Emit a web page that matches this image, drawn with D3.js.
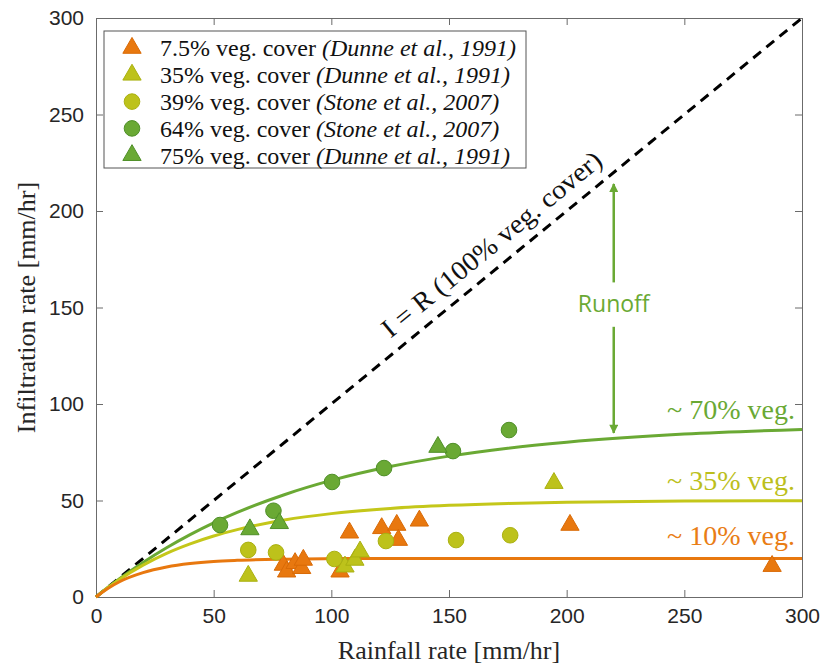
<!DOCTYPE html>
<html>
<head>
<meta charset="utf-8">
<script src="https://cdn.jsdelivr.net/npm/d3@7"></script>
<style>
  body { margin: 0; background: #fff; }
  .vis { width: 820px; height: 668px; }
</style>
</head>
<body>
<div class="vis"></div>
<script>
(function() {
  'use strict';

  // tick values
  var xTicks = [0, 50, 100, 150, 200, 250, 300];
  var yTicks = [0, 50, 100, 150, 200, 250, 300];

  var veg7Tri = [[79.6,16.6],[81,13.1],[84.6,17.5],[87.4,14.9],[88.1,19.2],[103.7,13.1],
    [107.7,33.3],[121.4,35.6],[127.8,37.3],[128.5,29.5],[137.4,39.5],[201.4,37.3],[287.3,16]];
  var veg35Tri = [[64.7,10.9],[105.8,15.7],[110,19.2],[112.2,23.5],[194.6,59]];
  var veg39Circ = [[64.7,24.4],[76.5,23.1],[101.3,19.7],[123.2,29],[153,29.5],[176,32]];
  var veg64Circ = [[52.7,37.3],[75.4,44.7],[100.3,59.6],[122.4,66.8],[151.7,75.6],[175.5,86.5]];
  var veg75Tri = [[65.4,35],[77.9,38.2],[145.3,77.7]];

  // fitted curves, sampled off the figure
  var curveX   = [0, 5, 10, 20, 30, 40, 50, 60, 80, 100, 125, 150, 175, 200, 250, 300];
  var curve70  = [0, 4.9, 9.5, 17.9, 25.5, 32.3, 38.4, 43.8, 53.0, 60.4, 67.6, 73.0, 77.1, 80.2, 84.4, 86.8];
  var curve35  = [0, 4.8, 9.1, 16.5, 22.6, 27.5, 31.6, 34.9, 39.9, 43.2, 45.9, 47.5, 48.5, 49.1, 49.7, 49.9];
  var curve10  = [0, 4.4, 7.9, 12.6, 15.5, 17.3, 18.4, 19.0, 19.6, 19.9, 20, 20, 20, 20, 20, 20];
  var curveLabels = ['~ 70% veg.', '~ 35% veg.', '~ 10% veg.'];

  var legendLabels = [
    ['7.5% veg. cover ', '(Dunne et al., 1991)'],
    ['35% veg. cover ', '(Dunne et al., 1991)'],
    ['39% veg. cover ', '(Stone et al., 2007)'],
    ['64% veg. cover ', '(Stone et al., 2007)'],
    ['75% veg. cover ', '(Dunne et al., 1991)']
  ];

  var orange = '#e8780f', orangeEdge = '#d96a06',
    yellow = '#bdc21b', yellowEdge = '#aab111',
    green = '#6aa934', greenEdge = '#4f8f28';

  var series = [
    {data: veg7Tri, shape: 'tri', fill: orange, edge: orangeEdge},
    {data: veg35Tri, shape: 'tri', fill: yellow, edge: yellowEdge},
    {data: veg39Circ, shape: 'circ', fill: yellow, edge: yellowEdge},
    {data: veg64Circ, shape: 'circ', fill: green, edge: greenEdge},
    {data: veg75Tri, shape: 'tri', fill: green, edge: greenEdge}
  ];

  var elWidth = 820, elHeight = 668,
    margin = {top: 18, right: 18, bottom: 71, left: 96},
    width = elWidth - margin.left - margin.right,
    height = elHeight - margin.top - margin.bottom;

  var root = d3.select('.vis').append('svg')
      .attr('width', elWidth)
      .attr('height', elHeight);

  var defs = root.append('defs');
  defs.append('marker')
      .attr('id', 'arrow')
      .attr('viewBox', '0 0 10 10')
      .attr('refX', 9).attr('refY', 5)
      .attr('markerWidth', 10).attr('markerHeight', 9)
      .attr('markerUnits', 'userSpaceOnUse')
      .attr('orient', 'auto')
    .append('path')
      .attr('d', 'M0,0L10,5L0,10Z')
      .attr('fill', green);

  var svg = root.append('g')
      .attr('transform', 'translate(' + margin.left + ',' + margin.top + ')');

  var x = d3.scaleLinear().domain([0, 300]).range([0, width]);
  var y = d3.scaleLinear().domain([0, 300]).range([height, 0]);

  var axisColor = '#6b6b6b';
  function styleAxis(g) {
    g.select('.domain').attr('stroke', axisColor);
    g.selectAll('.tick line').attr('stroke', axisColor);
    g.selectAll('.tick text')
      .attr('fill', '#262626')
      .style('font-family', '"Liberation Sans", Arial, sans-serif')
      .style('font-size', '21px');
  }

  svg.append('g')
      .attr('transform', 'translate(0,' + height + ')')
      .call(d3.axisBottom(x).tickValues(xTicks).tickSize(-7).tickSizeOuter(0).tickPadding(11))
      .call(styleAxis);
  svg.append('g')
      .call(d3.axisLeft(y).tickValues(yTicks).tickSize(-7).tickSizeOuter(0).tickPadding(12))
      .call(styleAxis);
  svg.append('g')
      .call(d3.axisTop(x).tickValues(xTicks).tickSize(-7).tickSizeOuter(0).tickFormat(''))
      .call(styleAxis);
  svg.append('g')
      .attr('transform', 'translate(' + width + ',0)')
      .call(d3.axisRight(y).tickValues(yTicks).tickSize(-7).tickSizeOuter(0).tickFormat(''))
      .call(styleAxis);

  // axis titles
  svg.append('text')
      .attr('x', width / 2)
      .attr('y', height + 62)
      .attr('text-anchor', 'middle')
      .attr('fill', '#262626')
      .style('font-family', '"Liberation Serif", "Times New Roman", serif')
      .style('font-size', '26px')
      .text('Rainfall rate [mm/hr]');
  svg.append('text')
      .attr('transform', 'translate(' + (-61) + ',' + (height / 2) + ') rotate(-90)')
      .attr('text-anchor', 'middle')
      .attr('fill', '#262626')
      .style('font-family', '"Liberation Serif", "Times New Roman", serif')
      .style('font-size', '26px')
      .text('Infiltration rate [mm/hr]');

  // 1:1 line
  var line = d3.line()
      .x(function(d) { return x(d[0]); })
      .y(function(d) { return y(d[1]); });
  svg.append('path')
      .datum([[0, 0], [300, 300]])
      .attr('d', line)
      .attr('fill', 'none')
      .attr('stroke', '#000')
      .attr('stroke-width', 3)
      .attr('stroke-dasharray', '10,7');

  var angle = Math.atan2(y(0) - y(300), x(300) - x(0)) * 180 / Math.PI;
  svg.append('text')
      .attr('transform', 'translate(' + x(174) + ',' + y(174) + ') rotate(' + (-angle) + ')')
      .attr('y', -13)
      .attr('text-anchor', 'middle')
      .attr('fill', '#111')
      .attr('textLength', 276)
      .attr('lengthAdjust', 'spacingAndGlyphs')
      .style('font-family', '"Liberation Serif", "Times New Roman", serif')
      .style('font-size', '27px')
      .text('I = R (100% veg. cover)');

  // fitted curves
  var curveLine = d3.line()
      .x(function(d, i) { return x(curveX[i]); })
      .y(function(d) { return y(d); })
      .curve(d3.curveMonotoneX);
  [[curve70, green], [curve35, '#c4c71a'], [curve10, orange]].forEach(function(c) {
    svg.append('path')
        .datum(c[0])
        .attr('d', curveLine)
        .attr('fill', 'none')
        .attr('stroke', c[1])
        .attr('stroke-width', 3);
  });

  // curve labels
  var labelY = [92, 55.5, 27];
  var labelColor = [green, '#bcbf1c', '#e97d15'];
  svg.selectAll('.curve-label')
    .data(curveLabels)
    .enter()
    .append('text')
      .attr('class', 'curve-label')
      .attr('x', x(300) - 7)
      .attr('y', function(d, i) { return y(labelY[i]); })
      .attr('text-anchor', 'end')
      .attr('fill', function(d, i) { return labelColor[i]; })
      .style('font-family', '"Liberation Serif", "Times New Roman", serif')
      .style('font-size', '28px')
      .text(function(d) { return d; });

  // runoff arrow
  svg.append('line')
      .attr('x1', x(220)).attr('x2', x(220))
      .attr('y1', y(163)).attr('y2', y(214))
      .attr('stroke', green).attr('stroke-width', 2.5)
      .attr('marker-end', 'url(#arrow)');
  svg.append('line')
      .attr('x1', x(220)).attr('x2', x(220))
      .attr('y1', y(140)).attr('y2', y(85))
      .attr('stroke', green).attr('stroke-width', 2.5)
      .attr('marker-end', 'url(#arrow)');
  svg.append('text')
      .attr('x', x(220))
      .attr('y', y(152))
      .attr('dy', '0.35em')
      .attr('text-anchor', 'middle')
      .attr('fill', green)
      .style('font-family', '"Open Sans", sans-serif')
      .style('font-size', '23px')
      .text('Runoff');

  // markers
  var tri = d3.symbol().type(d3.symbolTriangle).size(145);
  function drawMarker(sel, s) {
    if (s.shape === 'tri') {
      sel.append('path').attr('d', tri);
    } else {
      sel.append('circle').attr('r', 7.8);
    }
    sel.selectAll('path, circle')
      .attr('fill', s.fill)
      .attr('stroke', s.edge)
      .attr('stroke-width', 1);
  }
  series.forEach(function(s) {
    svg.append('g').selectAll('.pt')
      .data(s.data)
      .enter()
      .append('g')
        .attr('class', 'pt')
        .attr('transform', function(d) { return 'translate(' + x(d[0]) + ',' + y(d[1]) + ')'; })
        .each(function() { drawMarker(d3.select(this), s); });
  });

  // legend
  var legend = root.append('g').attr('transform', 'translate(104,31)');
  legend.append('rect')
      .attr('width', 422).attr('height', 137)
      .attr('fill', '#fff')
      .attr('stroke', '#555').attr('stroke-width', 1);
  var rows = legend.selectAll('.row')
    .data(series)
    .enter()
    .append('g')
      .attr('class', 'row')
      .attr('transform', function(d, i) { return 'translate(28,' + (17 + i * 26.8) + ')'; });
  rows.each(function(s) { drawMarker(d3.select(this), s); });
  var lt = rows.append('text')
      .attr('x', 28)
      .attr('dy', '0.35em')
      .attr('fill', '#111')
      .style('font-family', '"Liberation Serif", "Times New Roman", serif')
      .style('font-size', '24px');
  lt.append('tspan').text(function(d, i) { return legendLabels[i][0]; });
  lt.append('tspan').style('font-style', 'italic').text(function(d, i) { return legendLabels[i][1]; });
}());
</script>
</body>
</html>
